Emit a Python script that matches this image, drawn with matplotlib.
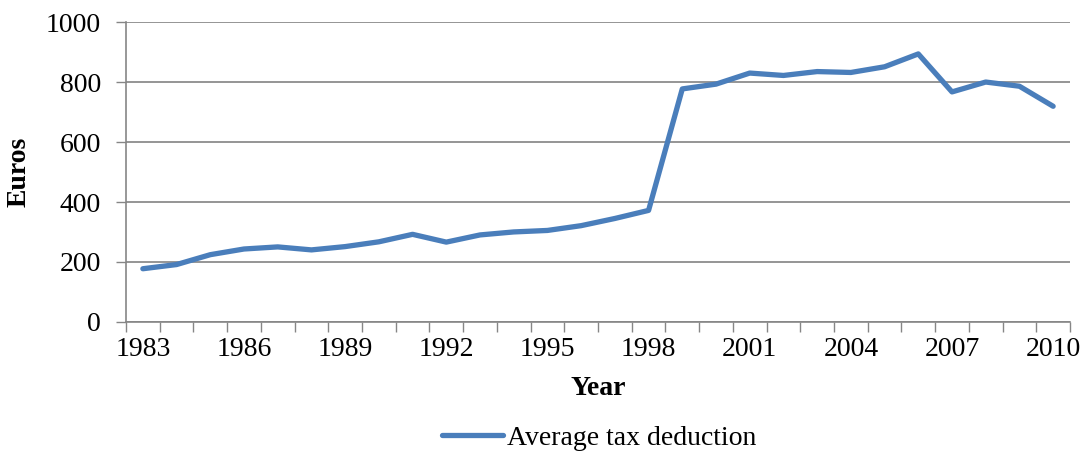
import numpy as np
import matplotlib
matplotlib.use("Agg")
from matplotlib import pyplot as plt
from matplotlib.ticker import FixedLocator

# average tax deduction per year (euros)
years = list(range(1983, 2011))
deduction = [177, 191, 224, 243, 250, 240, 251, 267, 292, 266,
             290, 300, 305, 321, 345, 372, 778, 794, 831, 823,
             836, 833, 852, 895, 768, 801, 787, 720]
label_years = [1983, 1986, 1989, 1992, 1995, 1998, 2001, 2004, 2007, 2010]
y_ticks = [0, 200, 400, 600, 800, 1000]

plt.rcParams["font.family"] = ["Liberation Serif", "DejaVu Serif"]

fig = plt.figure(figsize=(10.83, 4.53), dpi=100)
W, H = 1083.0, 453.0
ax = fig.add_axes([126 / W, 1 - 321.7 / H, (1070 - 126) / W, (321.7 - 22.5) / H])

x = np.arange(len(years))
line, = ax.plot(x, deduction, color="#4A7EBB", lw=3.8,
                solid_capstyle="round", solid_joinstyle="round",
                label="Average tax deduction")

ax.set_xlim(-0.5, len(years) - 0.5)
ax.set_ylim(0, 1000)

# labels sit on category centres, tick marks on the boundaries
ax.set_xticks([years.index(y) for y in label_years])
ax.set_xticklabels([str(y) for y in label_years])
ax.xaxis.set_minor_locator(FixedLocator(np.arange(-0.5, len(years), 1.0)))
ax.tick_params(axis="x", which="major", length=0, pad=11, labelsize=20)
ax.tick_params(axis="x", which="minor", length=7, width=1, color="#868686")

ax.set_yticks(y_ticks)
ax.tick_params(axis="y", length=7, width=1, color="#868686", pad=11, labelsize=20)

ax.grid(axis="y", color="#8c8c8c", lw=1.3)
ax.set_axisbelow(True)
for s in ["top", "right"]:
    ax.spines[s].set_visible(False)
for s in ["left", "bottom"]:
    ax.spines[s].set_color("#868686")
    ax.spines[s].set_linewidth(1.2)

ax.set_xlabel("Year", fontsize=20, fontweight="bold", labelpad=10)
ax.set_ylabel("Euros", fontsize=20, fontweight="bold", labelpad=10)

fig.legend(handles=[line], loc="lower center", bbox_to_anchor=(0.553, -0.05),
           frameon=False, fontsize=20, handlelength=2.2, handletextpad=0.15)

fig.savefig("out.png", dpi=100)
